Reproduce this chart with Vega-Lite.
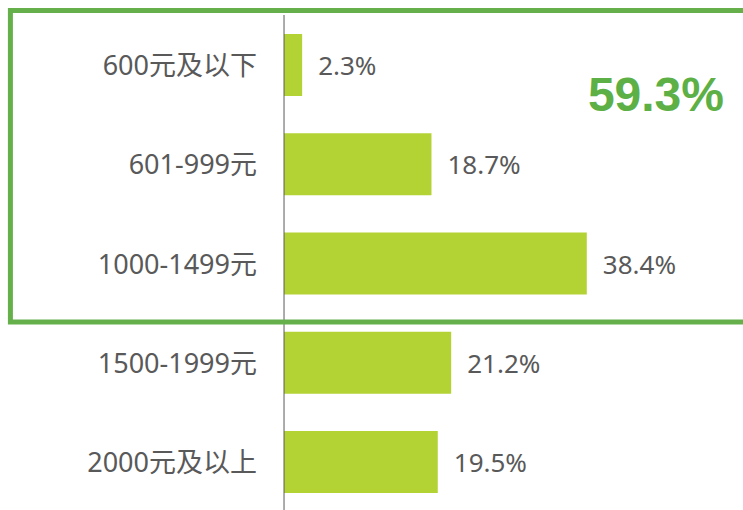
{
  "$schema": "https://vega.github.io/schema/vega-lite/v6.json",
  "width": 743,
  "height": 510,
  "padding": 0,
  "autosize": {"type": "none"},
  "background": "white",
  "config": {"view": {"stroke": null}, "font": "Noto Sans, Noto Sans CJK SC"},
  "resolve": {"scale": {"y": "independent"}},
  "layer": [
    {
      "data": {"values": [
        {"cat": "600元及以下", "value": 2.3, "label": "2.3%"},
        {"cat": "601-999元", "value": 18.7, "label": "18.7%"},
        {"cat": "1000-1499元", "value": 38.4, "label": "38.4%"},
        {"cat": "1500-1999元", "value": 21.2, "label": "21.2%"},
        {"cat": "2000元及以上", "value": 19.5, "label": "19.5%"}
      ]},
      "encoding": {
        "y": {"field": "cat", "type": "nominal", "sort": null, "axis": null,
              "scale": {"paddingInner": 0.375, "paddingOuter": 0.2568, "align": 0.667, "round": false}},
        "x": {"field": "value", "type": "quantitative", "axis": null,
              "scale": {"domain": [-36.02, 58.21], "nice": false, "zero": false}}
      },
      "layer": [
        {"mark": {"type": "bar", "color": "#b3d335"}},
        {"mark": {"type": "text", "align": "left", "baseline": "middle", "dx": 16, "dy": 2, "fontSize": 26, "color": "#595959"},
         "encoding": {"text": {"field": "label"}}},
        {"mark": {"type": "text", "align": "right", "baseline": "middle", "dx": -27, "dy": 2, "fontSize": 27, "color": "#595959"},
         "encoding": {"x": {"datum": 0}, "text": {"field": "cat"}}}
      ]
    },
    {
      "layer": [
        {
          "data": {"values": [{"x": 0, "y": 0.151, "y2": 5.3}]},
          "mark": {"type": "rule", "color": "#595959", "strokeWidth": 1},
          "encoding": {
            "x": {"field": "x", "type": "quantitative"},
            "y": {"field": "y", "type": "quantitative", "axis": null,
                  "scale": {"domain": [0, 5.1385], "reverse": true, "nice": false, "zero": false}},
            "y2": {"field": "y2"}
          }
        },
        {
          "data": {"values": [{"x": -34.7, "x2": 62, "y": 0.106, "y2": 3.245}]},
          "mark": {"type": "rect", "fill": null, "stroke": "#65b04a", "strokeWidth": 5},
          "encoding": {
            "x": {"field": "x", "type": "quantitative"},
            "x2": {"field": "x2"},
            "y": {"field": "y", "type": "quantitative", "axis": null,
                  "scale": {"domain": [0, 5.1385], "reverse": true, "nice": false, "zero": false}},
            "y2": {"field": "y2"}
          }
        },
        {
          "data": {"values": [{"x": 55.8, "y": 0.975, "text": "59.3%"}]},
          "mark": {"type": "text", "align": "right", "baseline": "middle", "fontSize": 48, "fontWeight": "bold", "font": "Liberation Sans", "color": "#5cb046"},
          "encoding": {
            "x": {"field": "x", "type": "quantitative"},
            "y": {"field": "y", "type": "quantitative", "axis": null,
                  "scale": {"domain": [0, 5.1385], "reverse": true, "nice": false, "zero": false}},
            "text": {"field": "text"}
          }
        }
      ]
    }
  ]
}
